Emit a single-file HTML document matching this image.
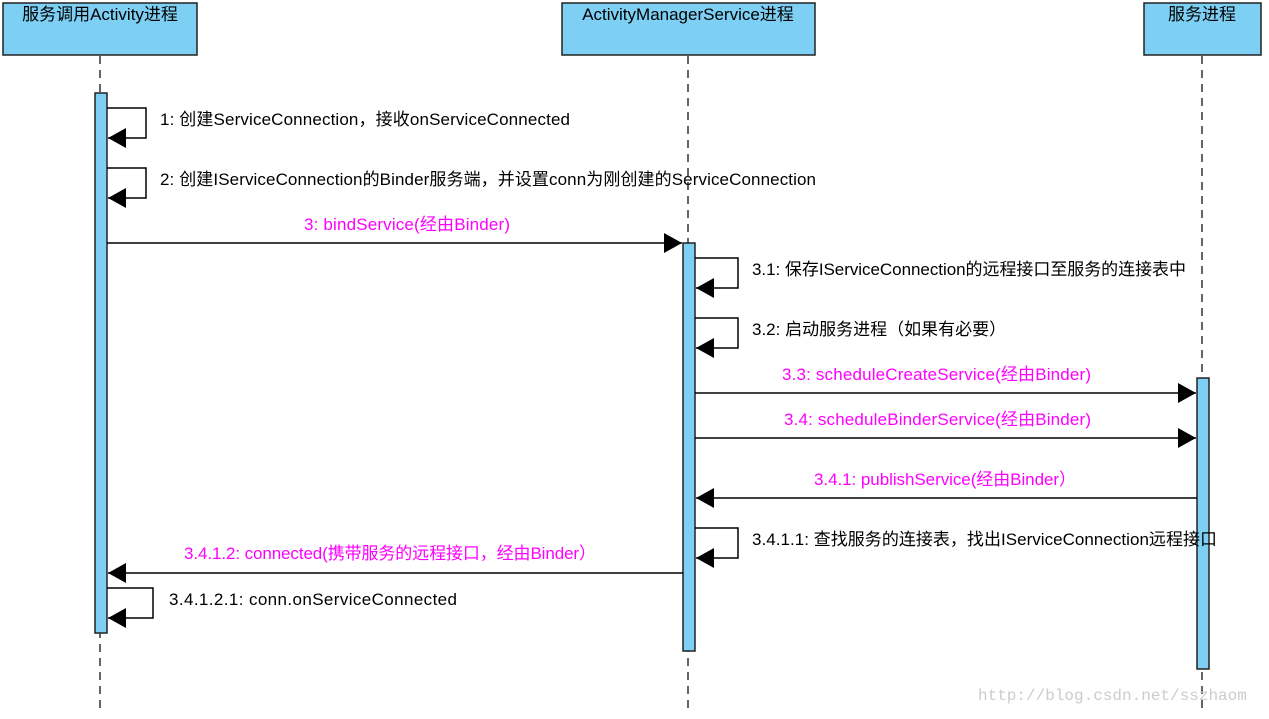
<!DOCTYPE html>
<html><head><meta charset="utf-8"><style>
body{margin:0;background:#fff;}
text{font-family:"Liberation Sans","Noto Sans CJK SC",sans-serif;font-size:17px;}
</style></head><body>
<svg width="1269" height="714" xmlns="http://www.w3.org/2000/svg">
<defs><marker id="a" markerWidth="20" markerHeight="22" refX="18" refY="10" orient="auto" markerUnits="userSpaceOnUse"><path d="M0,0 L18,10 L0,20 Z" fill="#000"/></marker></defs>
<g stroke="#333" stroke-width="1.5" stroke-dasharray="8,6" fill="none">
<line x1="100" y1="56" x2="100" y2="714"/><line x1="688" y1="56" x2="688" y2="714"/><line x1="1202" y1="56" x2="1202" y2="714"/>
</g>
<g fill="#7dcff3" stroke="#222" stroke-width="1.5">
<rect x="3" y="3" width="194" height="52"/><rect x="562" y="3" width="253" height="52"/><rect x="1144" y="3" width="117" height="52"/>
<rect x="95" y="93" width="12" height="540"/><rect x="683" y="243" width="12" height="408"/><rect x="1197" y="378" width="12" height="291"/>
</g>
<g text-anchor="middle" fill="#000"><text x="100" y="20">服务调用Activity进程</text><text x="688" y="20">ActivityManagerService进程</text><text x="1202" y="20">服务进程</text></g>
<g stroke="#000" stroke-width="1.5" fill="none" marker-end="url(#a)">
<path d="M107,108 H146 V138 H108"/><path d="M107,168 H146 V198 H108"/>
<path d="M107,243 H682"/>
<path d="M695,258 H738 V288 H696"/><path d="M695,318 H738 V348 H696"/>
<path d="M695,393 H1196"/><path d="M695,438 H1196"/><path d="M1197,498 H696"/>
<path d="M695,528 H738 V558 H696"/><path d="M683,573 H108"/>
<path d="M107,588 H153 V618 H108"/>
</g>
<g fill="#000"><text x="160" y="125" textLength="410">1: 创建ServiceConnection，接收onServiceConnected</text>
<text x="160" y="185" textLength="656">2: 创建IServiceConnection的Binder服务端，并设置conn为刚创建的ServiceConnection</text>
<text x="752" y="275" textLength="434">3.1: 保存IServiceConnection的远程接口至服务的连接表中</text>
<text x="752" y="335">3.2: 启动服务进程（如果有必要）</text>
<text x="752" y="545" textLength="465">3.4.1.1: 查找服务的连接表，找出IServiceConnection远程接口</text>
<text x="169" y="605" textLength="288">3.4.1.2.1: conn.onServiceConnected</text></g>
<g fill="#ff00ff"><text x="304" y="230" textLength="206">3: bindService(经由Binder)</text>
<text x="782" y="380" textLength="309">3.3: scheduleCreateService(经由Binder)</text>
<text x="784" y="425" textLength="307">3.4: scheduleBinderService(经由Binder)</text>
<text x="814" y="485" textLength="262">3.4.1: publishService(经由Binder）</text>
<text x="184" y="559" textLength="412">3.4.1.2: connected(携带服务的远程接口，经由Binder）</text></g>
<text x="978" y="700" fill="#ccc" style="font-family:'Liberation Mono',monospace;font-size:16px">http://blog.csdn.net/sszhaom</text>
</svg>
</body></html>
